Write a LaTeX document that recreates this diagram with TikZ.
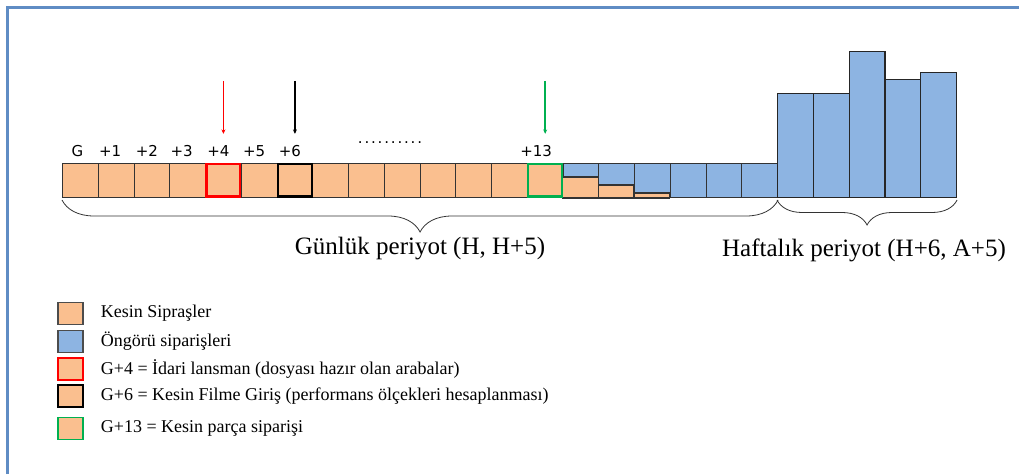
\documentclass[tikz,border=0pt]{standalone}
\usepackage{fontspec}
\setmainfont{Liberation Serif}
\newfontfamily\daylabelfont{DejaVu Sans}
\usetikzlibrary{arrows.meta,decorations.pathreplacing,positioning}

\definecolor{firmOrange}{RGB}{250,191,143}
\definecolor{forecastBlue}{RGB}{141,180,226}
\definecolor{frameBlue}{RGB}{95,140,196}
\definecolor{partGreen}{RGB}{0,176,80}

\begin{document}
\begin{tikzpicture}
[x=1pt,y=1pt,
  cellDecorate/.style={draw=black!80,line width=1.1pt,fill=firmOrange,
    minimum width=35.75pt,minimum height=34pt,inner sep=0pt,anchor=south west},
  barDecorate/.style={draw=black!85,line width=1.1pt,fill=forecastBlue,
    minimum width=35.8pt,inner sep=0pt,anchor=south west},
  dayLabel/.style={inner sep=0pt,font=\daylabelfont\fontsize{15}{17}\selectfont},
  pointerDecorate/.style={line width=1.6pt,-{Stealth[length=4.5pt,width=4pt]}},
  braceDecorate/.style={draw=black!80,line width=0.8pt,decorate},
  periodLabel/.style={font=\fontsize{25}{29}\selectfont},
  keyDecorate/.style={line width=1.3pt,minimum width=25pt,minimum height=22pt,inner sep=0pt},
  keyText/.style={anchor=west,inner sep=0pt,font=\fontsize{18}{21}\selectfont}]
\useasboundingbox (0,0) rectangle (1019,474);
%% frame
\draw[frameBlue,line width=2.2pt] (7.5,0) -- (7.5,466.5) -- (1019,466.5);
%% daily cells
\foreach \i in {0,...,13}
{
  \node[cellDecorate] (c\i) at ({62+35.75*\i},276) {};
}
\foreach \i in {14,...,19}
{
  \node[cellDecorate,fill=forecastBlue] (c\i) at ({62+35.75*\i},276) {};
}
%% firm part of the mixed cells
\foreach \i/\h in {14/21,15/13,16/5}
{
  \draw[draw=black!80,line width=1.1pt,fill=firmOrange]
    (c\i.south west) rectangle ++(35.75,\h);
}
%% highlighted days
\foreach \i/\col in {4/red,6/black,13/partGreen}
{
  \draw[\col,line width=2.2pt] ([shift={(1.5,1.5)}]c\i.south west)
    rectangle ([shift={(-1.5,-1.5)}]c\i.north east);
}
%% weekly bars
\foreach \i/\h in {0/104,1/104,2/146,3/118,4/125}
{
  \node[barDecorate,minimum height=\h pt] (w\i) at ({777+35.8*\i},276) {};
}
%% day labels
\foreach \i/\txt/\dx in {0/G/-3,1/+1/-6,2/+2/-5,3/+3/-6,4/+4/-5,5/+5/-5,6/+6/-5,13/+13/-9}
{
  \node[dayLabel,above=6pt of c\i,xshift=\dx pt] (l\i) {\txt};
}
\node[dayLabel] (dots) at (390,331) {\makebox[70pt]{\dotfill}};
%% pointers
\foreach \i/\col in {4/red,6/black,13/partGreen}
{
  \coordinate[above=82pt of c\i] (m\i);
  \coordinate[above=29pt of c\i] (n\i);
  \draw[pointerDecorate,\col] (m\i) -- (n\i);
}
%% braces
\draw[braceDecorate,decoration={brace,amplitude=32pt,raise=2pt}]
  (c19.south east) -- (c0.south west);
\draw[braceDecorate,decoration={brace,amplitude=25pt,raise=2pt}]
  (w4.south east) -- (w0.south west);
\node[periodLabel] (daily) at (420,225) {Günlük periyot (H, H+5)};
\node[periodLabel] (weekly) at (864,224) {Haftalık periyot (H+6, A+5)};
%% legend
\foreach \i/\col/\y/\txt in {
  1/black!70/160.5/Kesin Sipraşler,
  2/black!70/132.5/Öngörü siparişleri,
  3/red/105/G+4 = İdari lansman (dosyası hazır olan arabalar),
  4/black/78/G+6 = Kesin Filme Giriş (performans ölçekleri hesaplanması),
  5/partGreen/45.5/G+13 = Kesin parça siparişi}
{
  \node[keyDecorate,draw=\col,fill=firmOrange] (k\i) at (70.5,\y) {};
  \node[keyText,right=17pt of k\i] (t\i) {\txt};
}
\node[keyDecorate,draw=black!70,fill=forecastBlue] at (k2) {};
\end{tikzpicture}
\end{document}
